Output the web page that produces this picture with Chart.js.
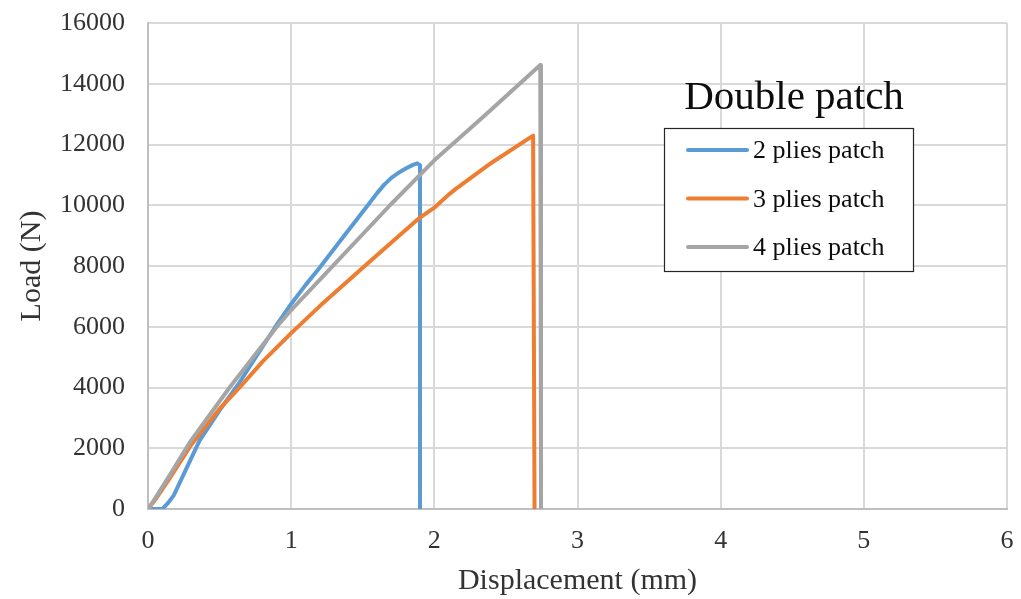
<!DOCTYPE html>
<html>
<head>
<meta charset="utf-8">
<title>Double patch</title>
<script src="https://cdn.jsdelivr.net/npm/chart.js@4"></script>
<style>
    html, body { margin: 0; padding: 0; background: #fff; }
    #wrap { width: 1021px; height: 599px; }
</style>
</head>
<body>
<div id="wrap"><canvas id="loadChart" width="1021" height="599"></canvas></div>
<script>
const seriesNames = ['2 plies patch', '3 plies patch', '4 plies patch'];
const seriesColors = ['#5B9BD5', '#ED7D31', '#A5A5A5'];

// displacement (mm) / load (N)
const twoPliesX = [0.03, 0.1, 0.14, 0.18, 0.36, 0.5, 0.63, 0.89, 1.0, 1.1, 1.2, 1.35, 1.53, 1.6, 1.65, 1.7, 1.75, 1.8, 1.85, 1.88, 1.9, 1.9];
const twoPliesY = [0, 0, 200, 450, 2250, 3250, 4100, 6000, 6750, 7370, 7950, 8870, 9970, 10400, 10680, 10900, 11070, 11210, 11330, 11380, 11320, 0];

const threePliesX = [0, 0.05, 0.15, 0.3, 0.5, 0.64, 0.8, 1.0, 1.2, 1.5, 1.7, 1.885, 2.0, 2.1, 2.15, 2.4, 2.69, 2.7];
const threePliesY = [0, 300, 1000, 2100, 3300, 4000, 4850, 5790, 6680, 7940, 8770, 9540, 9920, 10350, 10540, 11400, 12290, 0];

const fourPliesX = [0, 0.05, 0.15, 0.3, 0.57, 0.9, 1.0, 1.28, 1.69, 2.0, 2.35, 2.74, 2.745];
const fourPliesY = [0, 350, 1100, 2250, 4000, 6000, 6550, 7950, 10000, 11480, 12950, 14620, 0];

const xTicks = [0, 1, 2, 3, 4, 5, 6];
const yTicks = [0, 2000, 4000, 6000, 8000, 10000, 12000, 14000, 16000];

const chartTitle = 'Double patch';
const xTitle = 'Displacement (mm)';
const yTitle = 'Load (N)';

function toPoints(xs, ys) {
    return xs.map((x, i) => ({ x: x, y: ys[i] }));
}

const serif = "'Liberation Serif', 'Times New Roman', serif";

// legend box + title drawn inside the plot area, like the excel chart
const insideLegend = {
    id: 'insideLegend',
    afterDraw(chart) {
        const ctx = chart.ctx;
        ctx.save();

        ctx.fillStyle = '#0d0d0d';
        ctx.font = '41px ' + serif;
        ctx.textAlign = 'center';
        ctx.textBaseline = 'middle';
        ctx.fillText(chartTitle, 794, 98);

        ctx.fillStyle = '#fff';
        ctx.fillRect(664.5, 128.5, 249, 143);
        ctx.strokeStyle = '#262626';
        ctx.lineWidth = 1.2;
        ctx.strokeRect(664.5, 128.5, 249, 143);

        ctx.font = '26px ' + serif;
        ctx.textAlign = 'left';
        chart.data.datasets.forEach((ds, i) => {
            const y = 150 + i * 48.5;
            ctx.strokeStyle = ds.borderColor;
            ctx.lineWidth = 4;
            ctx.lineCap = 'round';
            ctx.beginPath();
            ctx.moveTo(688, y);
            ctx.lineTo(747, y);
            ctx.stroke();
            ctx.fillStyle = '#0d0d0d';
            ctx.fillText(ds.label, 753, y + 1.5);
        });
        ctx.restore();
    }
};

const datasets = [
    { label: seriesNames[0], data: toPoints(twoPliesX, twoPliesY), borderColor: seriesColors[0], order: 2 },
    { label: seriesNames[1], data: toPoints(threePliesX, threePliesY), borderColor: seriesColors[1], order: 1 },
    { label: seriesNames[2], data: toPoints(fourPliesX, fourPliesY), borderColor: seriesColors[2], order: 0 }
].map(ds => Object.assign(ds, {
    showLine: true,
    pointRadius: 0,
    borderWidth: 4,
    borderJoinStyle: 'round',
    borderCapStyle: 'round',
    backgroundColor: ds.borderColor,
    tension: 0
}));

// the label gap is made with invisible tick marks, so it does not push the plot area in
new Chart(document.getElementById('loadChart'), {
    type: 'scatter',
    data: { datasets: datasets },
    plugins: [insideLegend],
    options: {
        responsive: false,
        animation: false,
        layout: { padding: { top: 23, right: 14, left: 0, bottom: 0 } },
        plugins: {
            legend: { display: false },
            tooltip: { enabled: false }
        },
        scales: {
            x: {
                type: 'linear',
                min: xTicks[0],
                max: xTicks[xTicks.length - 1],
                afterBuildTicks: axis => { axis.ticks = xTicks.map(v => ({ value: v })); },
                afterFit: axis => { axis.height = 90; },
                grid: { color: '#d9d9d9', lineWidth: 2, drawTicks: true, tickLength: 17, tickColor: 'rgba(0,0,0,0)' },
                border: { color: '#bfbfbf', width: 2 },
                ticks: { padding: 0, color: '#333', font: { family: serif, size: 26 }, callback: v => String(v) },
                title: {
                    display: true,
                    text: xTitle,
                    color: '#333',
                    padding: { top: 0, bottom: 0 },
                    font: { family: serif, size: 30, lineHeight: 1.2 }
                }
            },
            y: {
                type: 'linear',
                min: yTicks[0],
                max: yTicks[yTicks.length - 1],
                afterBuildTicks: axis => { axis.ticks = yTicks.map(v => ({ value: v })); },
                afterFit: axis => { axis.width = 148; },
                grid: { color: '#d9d9d9', lineWidth: 2, drawTicks: true, tickLength: 23, tickColor: 'rgba(0,0,0,0)' },
                border: { color: '#bfbfbf', width: 2 },
                ticks: { padding: 0, color: '#333', font: { family: serif, size: 26 }, callback: v => String(v) },
                title: {
                    display: true,
                    text: yTitle,
                    color: '#333',
                    padding: { top: 14, bottom: 0 },
                    font: { family: serif, size: 30, lineHeight: 1.2 }
                }
            }
        }
    }
});
</script>
</body>
</html>
